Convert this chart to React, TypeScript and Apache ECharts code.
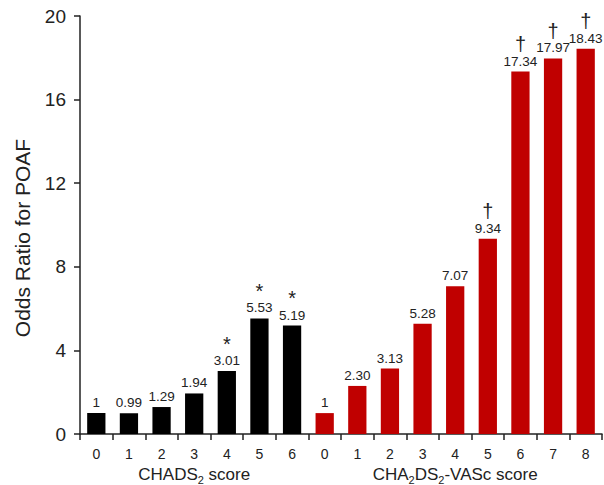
import React, { useEffect, useRef } from "react";
import * as echarts from "echarts";

const chadsScores = ["0", "1", "2", "3", "4", "5", "6"];
const chadsValues = [1, 0.99, 1.29, 1.94, 3.01, 5.53, 5.19];
const chadsMarks = ["", "", "", "", "*", "*", "*"];

const vascScores = ["0", "1", "2", "3", "4", "5", "6", "7", "8"];
const vascValues = [1, 2.3, 3.13, 5.28, 7.07, 9.34, 17.34, 17.97, 18.43];
const vascMarks = ["", "", "", "", "", "†", "†", "†", "†"];

const yMin = 0;
const yMax = 20;
const yInterval = 4;

const groupTitles = ["CHADS{sub|2} score", "CHA{sub|2}DS{sub|2}-VASc score"];
const yTitle = "Odds Ratio for POAF";

const FONT = "'Liberation Sans', Arial, Helvetica, sans-serif";

export default function App() {
  const ref = useRef<HTMLDivElement>(null);

  useEffect(() => {
    if (!ref.current) return;
    const chart = echarts.init(ref.current, undefined, { renderer: "svg" });

    const categories = [...chadsScores, ...vascScores];
    const values = [...chadsValues, ...vascValues];
    const marks = [...chadsMarks, ...vascMarks];
    const colors = [
      ...chadsValues.map(() => "#000000"),
      ...vascValues.map(() => "#C00000"),
    ];
    const groupCenters = [
      Math.floor((chadsScores.length - 1) / 2),
      chadsScores.length + Math.floor((vascScores.length - 1) / 2),
    ];

    const fmtVal = (v: number) => (Number.isInteger(v) ? String(v) : v.toFixed(2));

    chart.setOption({
      animation: false,
      textStyle: { fontFamily: FONT },
      grid: { left: 80, right: 2, top: 16, bottom: 48 },
      xAxis: [
        {
          type: "category",
          data: categories,
          boundaryGap: true,
          axisLine: { show: true, lineStyle: { color: "#222", width: 1.5 } },
          axisTick: { show: true, length: 6, lineStyle: { color: "#222", width: 1.5 } },
          axisLabel: { color: "#222", fontSize: 14, margin: 13, fontFamily: FONT },
          splitLine: { show: false },
        },
        {
          type: "category",
          data: categories,
          position: "bottom",
          boundaryGap: true,
          axisLine: { show: false },
          axisTick: { show: false },
          splitLine: { show: false },
          axisLabel: {
            margin: 29,
            interval: (i: number) => groupCenters.includes(i),
            formatter: (_v: string, i: number) => {
              const g = groupCenters.indexOf(i);
              return g >= 0 ? groupTitles[g] : "";
            },
            rich: {
              sub: {
                fontSize: 11,
                lineHeight: 12,
                verticalAlign: "bottom",
                color: "#222",
                fontFamily: FONT,
              },
            },
            color: "#222",
            fontSize: 17,
            lineHeight: 22,
            fontFamily: FONT,
          },
        },
      ],
      yAxis: {
        type: "value",
        min: yMin,
        max: yMax,
        interval: yInterval,
        axisLine: { show: true, lineStyle: { color: "#222", width: 1.5 } },
        axisTick: { show: true, length: 6, lineStyle: { color: "#222", width: 1.5 } },
        axisLabel: { color: "#222", fontSize: 19, margin: 14, fontFamily: FONT },
        splitLine: { show: false },
      },
      graphic: [
        {
          type: "text",
          x: 22,
          y: 238,
          rotation: Math.PI / 2,
          style: {
            text: yTitle,
            fontSize: 21,
            fill: "#222",
            fontFamily: FONT,
            align: "center",
            verticalAlign: "middle",
          },
          silent: true,
        },
      ],
      series: [
        {
          type: "bar",
          xAxisIndex: 0,
          barWidth: "56%",
          data: values.map((v, i) => ({ value: v, itemStyle: { color: colors[i] } })),
          label: {
            show: true,
            position: "top",
            distance: 3,
            formatter: (p: any) => {
              const m = marks[p.dataIndex];
              const t = fmtVal(values[p.dataIndex]);
              return m ? `{m|${m}}\n{v|${t}}` : `{v|${t}}`;
            },
            rich: {
              v: { fontSize: 13.5, lineHeight: 15, color: "#222", fontFamily: FONT },
              m: { fontSize: 20, lineHeight: 19, color: "#222", fontFamily: FONT },
            },
          },
        },
      ],
    });

    return () => chart.dispose();
  }, []);

  return <div ref={ref} style={{ width: 604, height: 485, position: "absolute", left: 0, top: 0 }} />;
}
